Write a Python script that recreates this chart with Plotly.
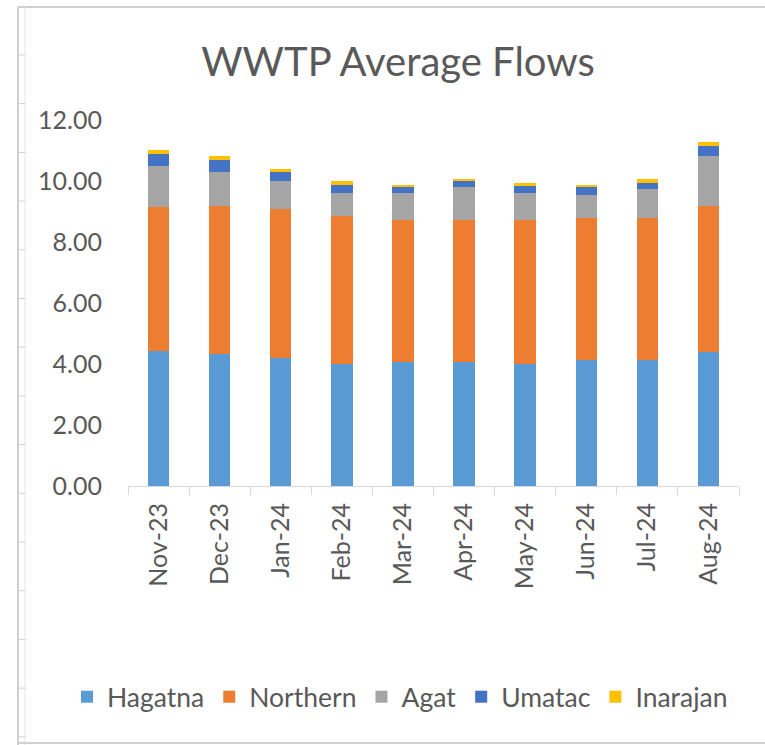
import plotly.graph_objects as go

months = ["Nov-23", "Dec-23", "Jan-24", "Feb-24", "Mar-24", "Apr-24", "May-24", "Jun-24", "Jul-24", "Aug-24"]
hagatna = [4.44, 4.32, 4.19, 4.00, 4.07, 4.07, 4.00, 4.13, 4.13, 4.38]
northern = [4.72, 4.85, 4.90, 4.85, 4.65, 4.65, 4.72, 4.66, 4.66, 4.79]
agat = [1.34, 1.13, 0.90, 0.75, 0.88, 1.07, 0.89, 0.75, 0.94, 1.66]
umatac = [0.39, 0.39, 0.31, 0.27, 0.19, 0.20, 0.25, 0.25, 0.19, 0.31]
inarajan = [0.13, 0.14, 0.08, 0.13, 0.08, 0.07, 0.06, 0.07, 0.14, 0.14]
y_ticks = [0, 2, 4, 6, 8, 10, 12]

series = [
    ("Hagatna", hagatna, "#5B9BD5"),
    ("Northern", northern, "#ED7D31"),
    ("Agat", agat, "#A5A5A5"),
    ("Umatac", umatac, "#4472C4"),
    ("Inarajan", inarajan, "#FFC000"),
]

FONT = "Lato"
TXT = "#595959"
W, H = 765, 745
L, R, T, B = 128, 26, 120, 259
pw, ph = W - L - R, H - T - B

fig = go.Figure()
for name, vals, col in series:
    fig.add_trace(go.Bar(name=name, x=months, y=vals, marker=dict(color=col, line=dict(width=0))))

def px(x):
    return (x - L) / pw

def py(y):
    return (H - B - y) / ph

shapes = []
line_col = "#D0D0D0"
shapes.append(dict(type="line", xref="paper", yref="paper", x0=px(18), x1=px(765), y0=py(7), y1=py(7), line=dict(color=line_col, width=2)))
shapes.append(dict(type="line", xref="paper", yref="paper", x0=px(18), x1=px(18), y0=py(7), y1=py(745), line=dict(color=line_col, width=2)))
shapes.append(dict(type="line", xref="paper", yref="paper", x0=px(25), x1=px(25), y0=py(7), y1=py(745), line=dict(color="#E4E4E4", width=1)))
shapes.append(dict(type="line", xref="paper", yref="paper", x0=px(18), x1=px(765), y0=py(743), y1=py(743), line=dict(color=line_col, width=2)))
yy = 55.0
while yy < 745:
    shapes.append(dict(type="line", xref="paper", yref="paper", x0=px(18), x1=px(25), y0=py(yy), y1=py(yy), line=dict(color=line_col, width=1)))
    yy += 48.7

fig.update_layout(
    width=W, height=H,
    margin=dict(l=L, r=R, t=T, b=B, autoexpand=False),
    barmode="stack",
    bargap=0.65,
    paper_bgcolor="white",
    plot_bgcolor="white",
    font=dict(family=FONT, color=TXT),
    title=dict(text="WWTP Average Flows", x=398 / W, xanchor="center", y=1 - 62 / H, yanchor="middle",
               yref="container", xref="container", font=dict(size=40, color=TXT, family=FONT)),
    xaxis=dict(showline=True, linecolor="#D9D9D9", linewidth=1, ticks="outside", tickson="boundaries",
               ticklen=8, tickcolor="#D9D9D9", tickangle=-90, tickfont=dict(size=25, color=TXT),
               showgrid=False, ticklabelstandoff=6),
    yaxis=dict(range=[0, 12], tickvals=y_ticks, tickformat=".2f", showgrid=False, zeroline=False,
               showline=False, tickfont=dict(size=25, color=TXT), ticklabelstandoff=25),
    legend=dict(orientation="h", xref="paper", yref="paper", x=px(67), xanchor="left",
                y=py(697), yanchor="middle", font=dict(size=26.5, color=TXT), traceorder="normal",
                itemwidth=30),
    shapes=shapes,
)

fig.write_html("out.html", config={"displayModeBar": False},
               post_script="document.body.style.margin='0';document.body.style.overflow='hidden';")
